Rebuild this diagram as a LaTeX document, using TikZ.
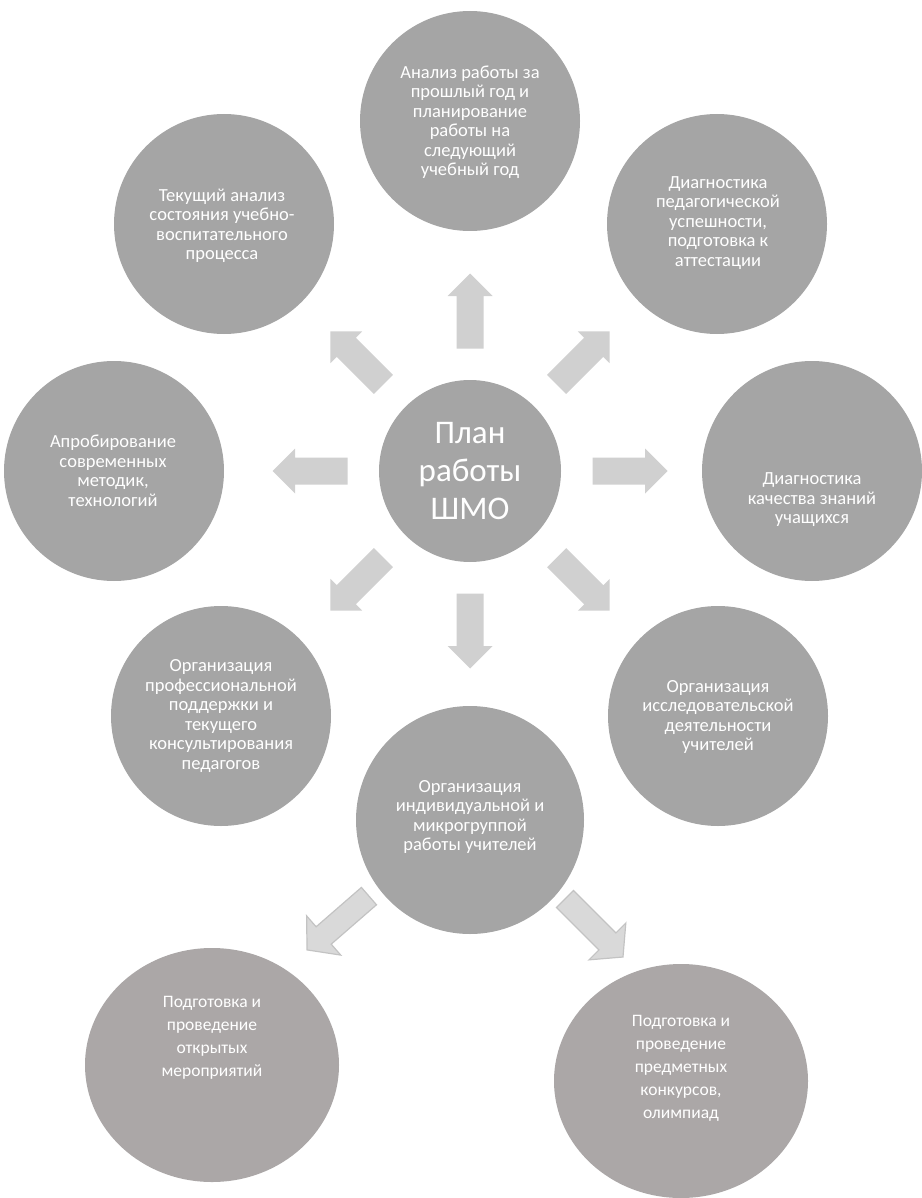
\documentclass[tikz,border=0pt]{standalone}
\usepackage{fontspec}
\setmainfont{Carlito}
\usepackage{tikz}
\usepackage{xcolor}
\usetikzlibrary{calc,shapes.geometric}
\definecolor{disc}{HTML}{A5A5A5}
\definecolor{discwarm}{HTML}{ABA7A7}
\definecolor{arrfill}{HTML}{D0D0D0}
\definecolor{arrpale}{HTML}{D9D9D9}
\definecolor{arredge}{HTML}{C3C3C3}
% block arrow: style, centre, angle, length, shaft width, head width, head length
\newcommand{\blockarrow}[7]{%
  \draw[#1,shift={#2},rotate=#3]
    (-#4/2,-#5/2) -- (#4/2-#7,-#5/2) -- (#4/2-#7,-#6/2) -- (#4/2,0)
    -- (#4/2-#7,#6/2) -- (#4/2-#7,#5/2) -- (-#4/2,#5/2) -- cycle;}
\tikzset{
  hub/.style={circle,fill=disc,minimum size=182pt,inner sep=0pt},
  ring/.style={circle,fill=disc,minimum size=220pt,inner sep=0pt},
  leaf/.style={ellipse,fill=discwarm,minimum width=254pt,minimum height=234pt,inner sep=0pt},
  hubtext/.style={text=white,align=center,font=\fontsize{33}{38}\selectfont},
  ringtext/.style={text=white,align=center,font=\fontsize{18.5}{19.5}\selectfont},
  leaftext/.style={text=white,align=center,font=\fontsize{17.5}{23}\selectfont},
  blockarr/.style={fill=arrfill,draw=none},
  palearr/.style={fill=arrpale,draw=arredge,line width=1.2pt,line join=miter}
}

\begin{document}
\begin{tikzpicture}[x=1pt,y=1pt]
  \useasboundingbox (0,0) rectangle (921,-1198);
  % centre
  \node[hub] (hub) at (470,-471) {};
  \node[hubtext] (hub-t) at (470,-471) {План\\работы\\ШМО};
  % arrows out of the centre
  \foreach \a in {0,45,...,315} {
    \blockarrow{blockarr}{($(hub)+(\a:160)$)}{\a}{75}{27}{45}{22.5}
  }
  % ring of topics
  \node[ring] (plan) at (470,-121) {};
  \node[ringtext] (plan-t) at (470,-122)
    {Анализ работы за\\прошлый год и\\планирование\\работы на\\следующий\\учебный год};
  \node[ring] (tekush) at (224,-224) {};
  \node[ringtext] (tekush-t) at (222,-226)
    {Текущий анализ\\состояния учебно-\\воспитательного\\процесса};
  \node[ring] (attest) at (717,-224) {};
  \node[ringtext] (attest-t) at (718,-223)
    {Диагностика\\педагогической\\успешности,\\подготовка к\\аттестации};
  \node[ring] (aprob) at (114,-471) {};
  \node[ringtext] (aprob-t) at (113,-471)
    {Апробирование\\современных\\методик,\\технологий};
  \node[ring] (znan) at (812,-471) {};
  \node[ringtext] (znan-t) at (812,-500)
    {Диагностика\\качества знаний\\учащихся};
  \node[ring] (podd) at (221,-716) {};
  \node[ringtext] (podd-t) at (221,-716)
    {Организация\\профессиональной\\поддержки и\\текущего\\консультирования\\педагогов};
  \node[ring] (issl) at (718,-716) {};
  \node[ringtext] (issl-t) at (718,-717)
    {Организация\\исследовательской\\деятельности\\учителей};
  \node[ring,minimum size=228pt] (indiv) at (470,-820) {};
  \node[ringtext] (indiv-t) at (470,-817)
    {Организация\\индивидуальной и\\микрогруппой\\работы учителей};
  % second level
  \blockarrow{palearr}{(338,-923)}{221}{82}{23}{52}{22}
  \blockarrow{palearr}{(594,-928)}{-45}{82}{24}{52}{22}
  \node[leaf] (otkr) at (212,-1065) {};
  \node[leaftext] (otkr-t) at (212,-1038)
    {Подготовка и\\проведение\\открытых\\мероприятий};
  \node[leaf] (olimp) at (681,-1081) {};
  \node[leaftext] (olimp-t) at (681,-1068)
    {Подготовка и\\проведение\\предметных\\конкурсов,\\олимпиад};
\end{tikzpicture}
\end{document}
